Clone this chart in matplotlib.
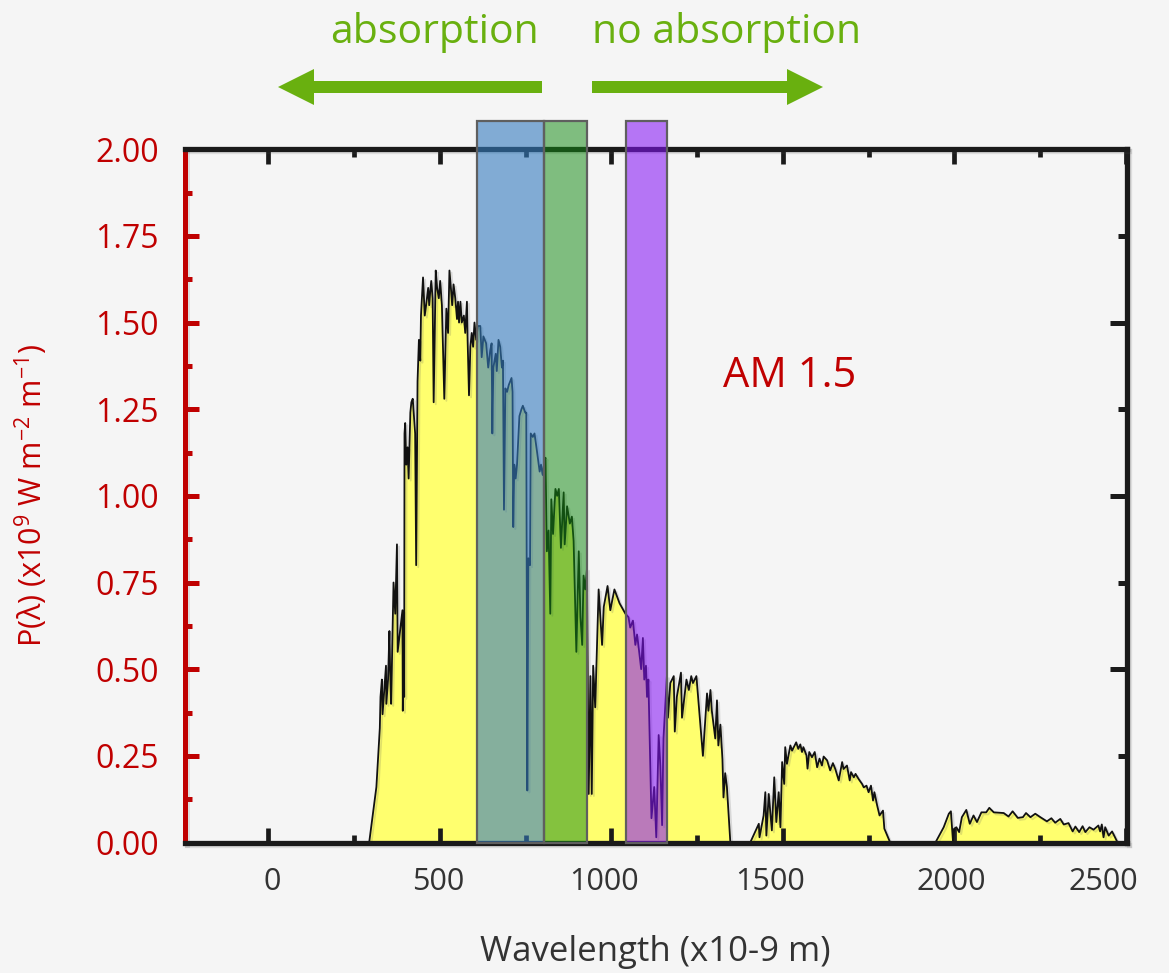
import numpy as np
import matplotlib
matplotlib.use('Agg')
import matplotlib.pyplot as plt
from matplotlib.ticker import MultipleLocator, FormatStrFormatter
from matplotlib.patches import Rectangle, FancyArrow
import matplotlib.transforms as mtransforms
import matplotlib.patheffects as pe

plt.rcParams['font.family'] = ['Open Sans', 'DejaVu Sans']
plt.rcParams['mathtext.fontset'] = 'custom'
plt.rcParams['mathtext.rm'] = 'Open Sans'
plt.rcParams['mathtext.it'] = 'Open Sans:italic'
plt.rcParams['mathtext.bf'] = 'Open Sans:bold'

# ---------------- data ----------------
seg1_wl = [294, 315, 325, 327, 331, 333, 343, 344, 349, 353,
           355, 358, 365, 370, 375, 377, 391, 392, 395, 396,
           397, 399, 402, 406, 409, 414, 417, 421, 426, 428,
           431, 435, 439, 443, 445, 451, 456, 460, 466, 469,
           472, 475, 479, 482, 488, 492, 497, 501, 506, 513,
           519, 524, 528, 533, 536, 540, 545, 550, 553, 556,
           560, 564, 570, 574, 579, 581, 585, 589, 593, 597,
           601, 606, 611, 618, 622, 627, 635, 641, 647, 651,
           653, 656, 663, 666, 671, 676, 681, 684, 687, 691,
           696, 701, 709, 712, 714, 717, 721, 725, 732, 738,
           742, 749, 752, 755, 758, 763, 765, 771, 776, 783,
           791, 795, 800, 805, 808, 812, 817, 822, 825, 830,
           837, 842, 847, 853, 861, 864, 871, 879, 885, 890,
           898, 905, 910, 915, 919, 924, 929, 934, 939, 943,
           947, 953, 963, 973, 978, 989, 997, 1009, 1024, 1041,
           1050, 1055, 1063, 1070, 1075, 1080, 1087, 1092, 1096, 1101,
           1104, 1108, 1117, 1125, 1131, 1138, 1143, 1148, 1152, 1162,
           1165, 1172, 1182, 1185, 1191, 1203, 1206, 1219, 1226, 1233,
           1238, 1248, 1267, 1279, 1283, 1289, 1293, 1303, 1308, 1312,
           1318, 1324, 1327, 1332, 1337, 1347]
seg1_p = [0.00, 0.16, 0.33, 0.42, 0.47, 0.37, 0.51, 0.40, 0.47, 0.61,
          0.50, 0.40, 0.75, 0.66, 0.86, 0.55, 0.67, 0.38, 0.66, 0.42,
          1.18, 1.21, 1.09, 1.14, 1.05, 1.24, 1.27, 1.28, 1.21, 1.18,
          0.80, 1.33, 1.45, 1.39, 1.52, 1.63, 1.52, 1.55, 1.60, 1.55,
          1.59, 1.62, 1.57, 1.27, 1.65, 1.60, 1.57, 1.62, 1.55, 1.28,
          1.54, 1.47, 1.65, 1.59, 1.55, 1.61, 1.57, 1.51, 1.56, 1.50,
          1.56, 1.50, 1.52, 1.47, 1.56, 1.45, 1.29, 1.43, 1.47, 1.43,
          1.50, 1.45, 1.49, 1.49, 1.40, 1.46, 1.44, 1.37, 1.42, 1.44,
          1.18, 1.37, 1.41, 1.36, 1.45, 1.43, 1.37, 1.39, 0.96, 1.31,
          1.30, 1.32, 1.34, 1.30, 0.91, 1.09, 1.05, 1.09, 1.23, 1.25,
          1.26, 1.24, 1.24, 0.15, 0.82, 0.80, 1.18, 1.17, 1.18, 1.13,
          1.07, 1.09, 1.06, 1.10, 1.11, 0.84, 0.90, 0.66, 0.99, 0.89,
          1.02, 1.00, 1.02, 0.85, 1.01, 0.86, 0.97, 0.92, 0.94, 0.87,
          0.55, 0.84, 0.65, 0.57, 0.77, 0.73, 0.79, 0.14, 0.48, 0.14,
          0.51, 0.39, 0.73, 0.57, 0.68, 0.74, 0.67, 0.73, 0.69, 0.66,
          0.65, 0.62, 0.64, 0.57, 0.60, 0.56, 0.50, 0.59, 0.47, 0.51,
          0.42, 0.47, 0.07, 0.16, 0.015, 0.31, 0.22, 0.05, 0.30, 0.48,
          0.36, 0.46, 0.48, 0.32, 0.42, 0.49, 0.36, 0.47, 0.44, 0.48,
          0.46, 0.48, 0.25, 0.43, 0.38, 0.44, 0.38, 0.30, 0.41, 0.28,
          0.34, 0.24, 0.13, 0.20, 0.16, 0.00]

seg2_wl = [1405, 1430, 1432, 1444, 1449, 1452, 1459, 1468, 1475, 1481,
           1488, 1493, 1498, 1504, 1507, 1512, 1522, 1527, 1539, 1545,
           1551, 1556, 1560, 1569, 1572, 1577, 1585, 1593, 1600, 1607,
           1614, 1619, 1629, 1638, 1646, 1653, 1663, 1673, 1677, 1687,
           1695, 1699, 1707, 1712, 1721, 1731, 1736, 1744, 1750, 1757,
           1763, 1767, 1775, 1782, 1792, 1796, 1813]
seg2_p = [0.000, 0.054, 0.015, 0.078, 0.145, 0.020, 0.140, 0.035, 0.188, 0.059,
          0.145, 0.044, 0.232, 0.169, 0.275, 0.227, 0.280, 0.265, 0.289, 0.270,
          0.283, 0.261, 0.275, 0.251, 0.213, 0.261, 0.246, 0.261, 0.217, 0.242,
          0.222, 0.248, 0.237, 0.208, 0.229, 0.212, 0.179, 0.232, 0.212, 0.222,
          0.179, 0.203, 0.188, 0.198, 0.183, 0.169, 0.159, 0.164, 0.145, 0.164,
          0.121, 0.145, 0.107, 0.078, 0.092, 0.040, 0.000]

seg3_wl = [1945, 1969, 1984, 1990, 1996, 2000, 2006, 2014, 2022, 2035,
           2045, 2056, 2066, 2079, 2093, 2102, 2115, 2144, 2158, 2170,
           2185, 2200, 2209, 2222, 2236, 2251, 2270, 2283, 2294, 2309,
           2319, 2333, 2345, 2353, 2364, 2374, 2382, 2394, 2406, 2420,
           2425, 2430, 2435, 2440, 2450, 2460, 2476]
seg3_p = [0.000, 0.044, 0.083, 0.090, 0.005, 0.040, 0.044, 0.030, 0.073, 0.094,
          0.054, 0.078, 0.059, 0.087, 0.087, 0.100, 0.087, 0.085, 0.075, 0.090,
          0.071, 0.073, 0.085, 0.073, 0.083, 0.073, 0.061, 0.070, 0.057, 0.068,
          0.052, 0.056, 0.032, 0.046, 0.030, 0.047, 0.030, 0.044, 0.037, 0.049,
          0.032, 0.052, 0.015, 0.044, 0.020, 0.032, 0.000]

# absorption bands (nm)
band_left = [609, 804, 1043]
band_right = [804, 928, 1161]
band_top = 2.08

xtick_values = [0, 500, 1000, 1500, 2000, 2500]
xtick_label_pos = [11, 495, 979, 1463, 1990, 2434]
xtick_labels = ['0', '500', '1000', '1500', '2000', '2500']

# ---------------- styles ----------------
BG = '#f5f5f5'
RED = '#c00000'
BLACK = '#1a1a1a'
GREEN = '#69b00f'
YELLOW = '#ffff6e'
band_colors = [(0.204, 0.482, 0.745, 0.60),
               (0.075, 0.541, 0.075, 0.52),
               (0.518, 0.071, 0.965, 0.56)]

wl = np.concatenate([seg1_wl, seg2_wl, seg3_wl]).astype(float)
pw = np.concatenate([seg1_p, seg2_p, seg3_p]).astype(float)

fig = plt.figure(figsize=(11.69, 9.73), dpi=100, facecolor=BG)
W, H = 1169.0, 973.0
ax = fig.add_axes([185 / W, 1 - 842.5 / H, (1126.5 - 185) / W, (842.5 - 149.2) / H])
ax.set_facecolor(BG)
ax.set_xlim(-243, 2502)
ax.set_ylim(0, 2.0)

shadow = [pe.SimpleLineShadow(offset=(1.5, -1.5), alpha=0.18, shadow_color='#555555'), pe.Normal()]

ax.fill_between(wl, pw, 0, color=YELLOW, lw=0, zorder=1)
ax.plot(wl, pw, color='#111111', lw=1.3, zorder=2, path_effects=shadow)

for x0, x1, c in zip(band_left, band_right, band_colors):
    ax.add_patch(Rectangle((x0, 0), x1 - x0, band_top, facecolor=c,
                           edgecolor='#5f5f5f', lw=1.6, clip_on=False, zorder=3))

# spines
spine_shadow = [pe.SimpleLineShadow(offset=(1.5, -1.5), alpha=0.15, shadow_color='#555555'), pe.Normal()]
for s in ['top', 'bottom', 'right']:
    ax.spines[s].set_color(BLACK)
    ax.spines[s].set_linewidth(3.8)
    ax.spines[s].set_capstyle('projecting')
    ax.spines[s].set_path_effects(spine_shadow)
ax.spines['left'].set_color(RED)
ax.spines['left'].set_linewidth(3.6)
ax.spines['left'].set_capstyle('projecting')
ax.spines['left'].set_path_effects(spine_shadow)

# right-side ticks on a twin
ax2 = ax.twinx()
ax2.set_ylim(0, 2.0)
ax2.yaxis.set_major_locator(MultipleLocator(0.5))
ax2.yaxis.set_minor_locator(MultipleLocator(0.25))
ax2.tick_params(axis='y', which='both', direction='in', right=True, left=False,
                labelright=False, color=BLACK, width=3.6)
ax2.tick_params(axis='y', which='major', length=11.5)
ax2.tick_params(axis='y', which='minor', length=6)
for s in ax2.spines.values():
    s.set_visible(False)

# x ticks
ax.set_xticks(xtick_values)
ax.xaxis.set_minor_locator(MultipleLocator(250))
ax.tick_params(axis='x', which='both', direction='in', top=True, bottom=True,
               labelbottom=False, color=BLACK, width=3.4)
ax.tick_params(axis='x', which='major', length=11)
ax.tick_params(axis='x', which='minor', length=5.5)
trans = mtransforms.blended_transform_factory(ax.transData, ax.transAxes)
for xp, lab in zip(xtick_label_pos, xtick_labels):
    ax.text(xp, (842.5 - 882) / 693.3, lab, transform=trans, ha='center', va='center',
            fontsize=22, color='#333333', clip_on=False)

# y ticks (left)
ax.yaxis.set_major_locator(MultipleLocator(0.25))
ax.yaxis.set_minor_locator(MultipleLocator(0.125))
ax.yaxis.set_major_formatter(FormatStrFormatter('%.2f'))
ax.tick_params(axis='y', which='both', direction='in', left=True, right=False,
               color=RED, labelcolor=RED, width=3.6, labelsize=23, pad=19)
ax.tick_params(axis='y', which='major', length=10)
ax.tick_params(axis='y', which='minor', length=5)

ax.set_ylabel(r'P(λ) (x10$^{9}$ W m$^{-2}$ m$^{-1}$)', fontsize=22, color=RED)
ax.yaxis.set_label_coords((31 - 185) / 941.5, 0.5)
ax.yaxis.label.set_va('center')

ax.set_xlabel('Wavelength (x10-9 m)', fontsize=25, color='#333333')
ax.xaxis.set_label_coords(0.5, (842.5 - 952) / 693.3)
ax.xaxis.label.set_va('center')

ax.text(1521, 1.347, 'AM 1.5', fontsize=30, color=RED, ha='center', va='center')

# overlay for arrows and header text (pixel coordinates)
oax = fig.add_axes([0, 0, 1, 1])
oax.set_xlim(0, W)
oax.set_ylim(H, 0)
oax.axis('off')
oax.patch.set_alpha(0)
oax.add_patch(FancyArrow(542, 87, -264, 0, width=12, head_width=36, head_length=36,
                         length_includes_head=True, color=GREEN, lw=0))
oax.add_patch(FancyArrow(592, 87, 231, 0, width=12, head_width=36, head_length=36,
                         length_includes_head=True, color=GREEN, lw=0))
oax.text(434, 43, 'absorption', ha='center', va='baseline', fontsize=29.5, color=GREEN)
oax.text(727, 43, 'no absorption', ha='center', va='baseline', fontsize=29.5, color=GREEN)

fig.savefig('out.png', dpi=100, facecolor=BG)
